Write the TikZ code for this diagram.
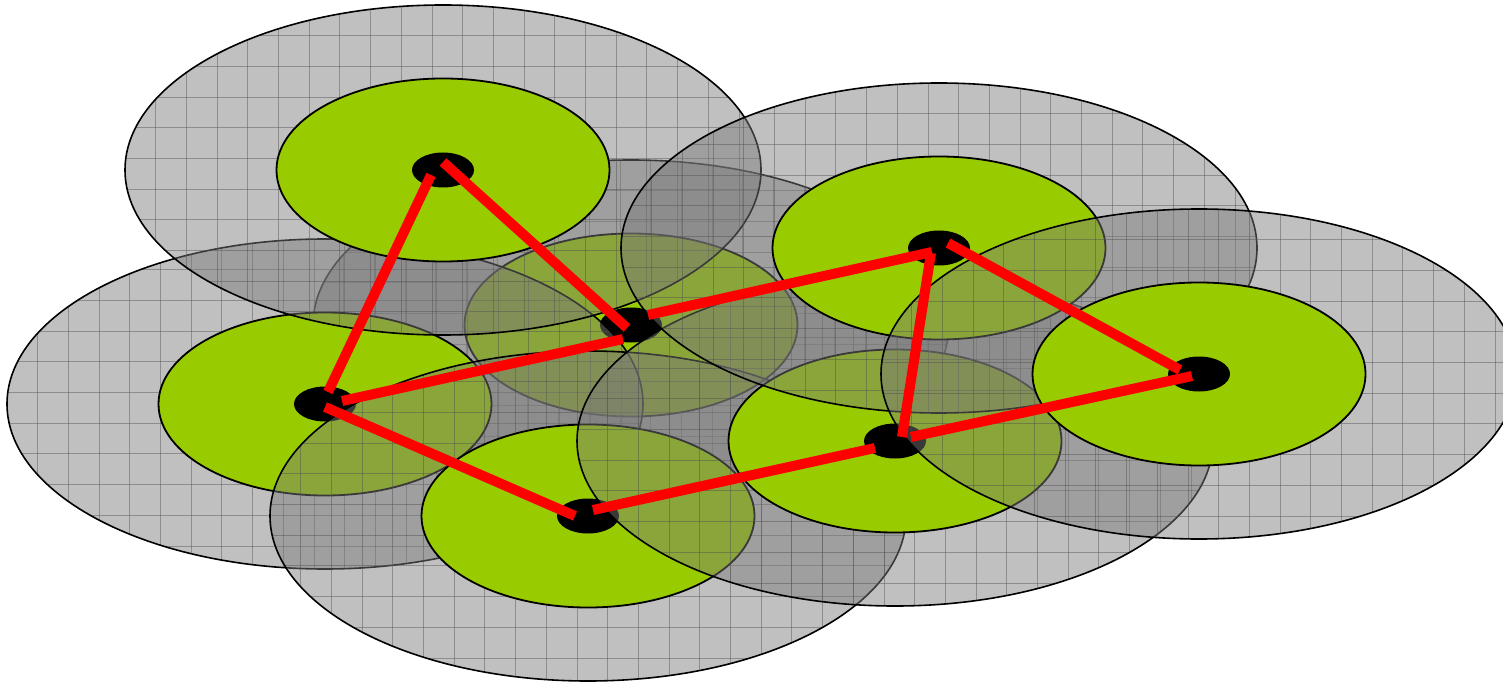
\documentclass[tikz,border=0pt]{standalone}
\usetikzlibrary{shapes.geometric,calc}
\definecolor{diskgrey}{RGB}{122,122,122}
\definecolor{gridgrey}{RGB}{80,80,80}
\definecolor{lime}{RGB}{153,204,0}
\tikzset{
  rangedisk/.style={ellipse, inner sep=0pt, minimum width=636pt, minimum height=330pt,
    fill=diskgrey, fill opacity=0.475},
  rangeline/.style={draw=black, line width=1.6pt},
  gridline/.style={draw=gridgrey, line width=1pt, draw opacity=0.45},
  coverdisk/.style={ellipse, inner sep=0pt, minimum width=333pt, minimum height=183pt,
    fill=lime, draw=black, line width=1.8pt},
  hub/.style={ellipse, inner sep=0pt, minimum width=62pt, minimum height=35pt, fill=black},
  link/.style={draw=red, line width=10pt}
}
\newcommand\rangegrid[1]{%
  \begin{scope}
    \clip (#1.center) ellipse [x radius=318, y radius=165];
    \foreach \k in {1,...,20}{
      \draw[gridline] ($(#1.center)+(-318+\k*30.7,-167)$) -- ++(0,334);
    }
    \foreach \k in {1,...,10}{
      \draw[gridline] ($(#1.center)+(-320,-165+\k*30.7)$) -- ++(640,0);
    }
  \end{scope}
  \draw[rangeline] (#1.center) ellipse [x radius=318, y radius=165];
}
\begin{document}
\begin{tikzpicture}[x=1pt,y=-1pt]
\useasboundingbox (0,0) rectangle (1503,684);
% B
\node[rangedisk] (Br) at (631,325) {};
\rangegrid{Br}
\node[coverdisk] (Bg) at (631,325) {};
\node[hub] (B) at (631,325) {};
% C
\node[rangedisk] (Cr) at (325,404) {};
\rangegrid{Cr}
\node[coverdisk] (Cg) at (325,404) {};
\node[hub] (C) at (325,404) {};
% A
\node[rangedisk] (Ar) at (443,170) {};
\rangegrid{Ar}
\node[coverdisk] (Ag) at (443,170) {};
\node[hub] (A) at (443,170) {};
% D
\node[rangedisk] (Dr) at (588,516) {};
\rangegrid{Dr}
\node[coverdisk] (Dg) at (588,516) {};
\node[hub] (D) at (588,516) {};
% F
\node[rangedisk] (Fr) at (895,441) {};
\rangegrid{Fr}
\node[coverdisk] (Fg) at (895,441) {};
\node[hub] (F) at (895,441) {};
% E
\node[rangedisk] (Er) at (939,248) {};
\rangegrid{Er}
\node[coverdisk] (Eg) at (939,248) {};
\node[hub] (E) at (939,248) {};
% G
\node[rangedisk] (Gr) at (1199,374) {};
\rangegrid{Gr}
\node[coverdisk] (Gg) at (1199,374) {};
\node[hub] (G) at (1199,374) {};
% links
\draw[link] ($(A)+(-12,5)$) -- ($(C)+(3,-12)$);
\draw[link] ($(A)+(0,-8)$) -- ($(B)+(-4,3)$);
\draw[link] ($(C)+(17,-3)$) -- ($(B)+(-8,14)$);
\draw[link] ($(C)+(0,3)$) -- ($(D)+(-13,0)$);
\draw[link] ($(D)+(5,-6)$) -- ($(F)+(-20,7)$);
\draw[link] ($(B)+(17,-10)$) -- ($(E)+(-7,4)$);
\draw[link] ($(E)+(-8,5)$) -- ($(F)+(7,-4)$);
\draw[link] ($(E)+(9,-5)$) -- ($(G)+(-19,-4)$);
\draw[link] ($(F)+(16,-4)$) -- ($(G)+(-7,2)$);
\end{tikzpicture}
\end{document}
